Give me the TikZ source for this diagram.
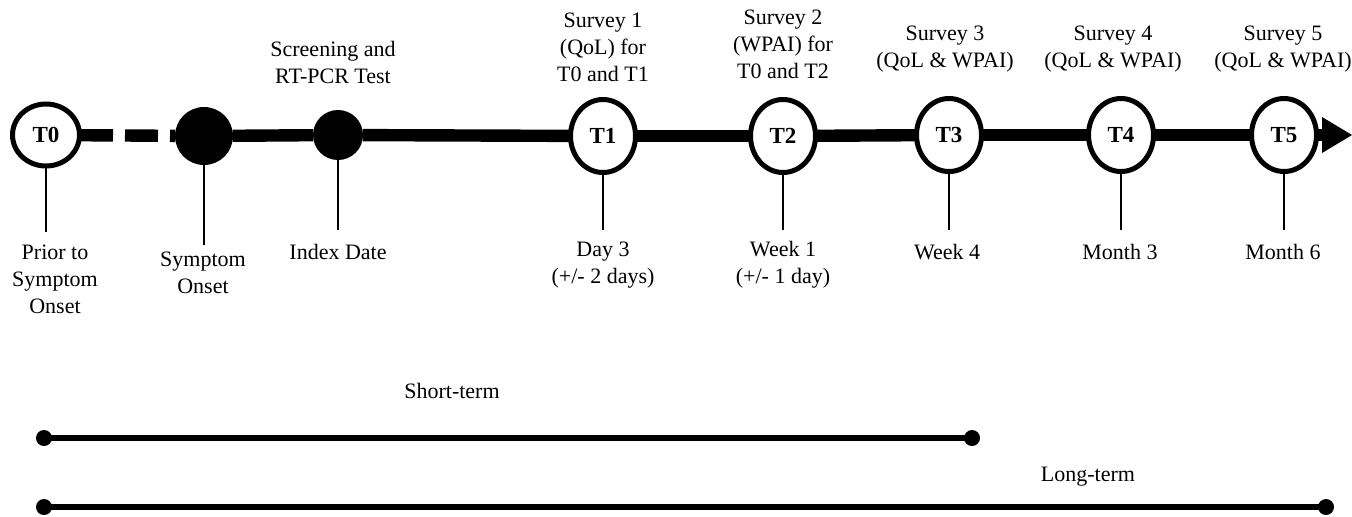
\documentclass[tikz,border=0pt]{standalone}
\usepackage{fontspec}
\setmainfont{Liberation Serif}
\newfontfamily\tnr{Liberation Serif}
\usetikzlibrary{arrows.meta,shapes.geometric}
\begin{document}
\begin{tikzpicture}[x=0.5pt,y=-0.5pt,
  lbl/.style={font=\tnr\fontsize{11}{13.5}\selectfont, align=center, inner sep=0pt},
  tnode/.style={ellipse, draw, line width=2.5pt, fill=white, inner sep=0pt, outer sep=0pt,
    minimum width=32.5pt, minimum height=36.5pt, font=\tnr\fontsize{11.5}{13}\selectfont\bfseries},
  bigdot/.style={circle, fill=black, inner sep=0pt, outer sep=0pt},
  enddot/.style={circle, fill=black, inner sep=0pt, outer sep=0pt, minimum size=8pt},
  mainline/.style={line width=6.2pt, line cap=butt},
  tick/.style={line width=0.8pt},
  span/.style={line width=2.8pt}]
\useasboundingbox (0,0) rectangle (1352,516);

% timeline nodes
\node[tnode, minimum width=33.5pt, minimum height=31pt] (T0) at (46,135) {T0};
\node[bigdot, minimum size=29pt] (S) at (204,136) {};
\node[bigdot, minimum width=22pt, minimum height=25pt] (I) at (338,135) {};
\node[tnode] (T1) at (603,136) {T1};
\node[tnode] (T2) at (783,136) {T2};
\node[tnode] (T3) at (949,135) {T3};
\node[tnode] (T4) at (1121,135) {T4};
\node[tnode] (T5) at (1284,135) {T5};
\coordinate (tip) at (1352,135);

% main line
\draw[mainline, dash pattern=on 16.75pt off 6pt on 16.5pt off 6pt on 200pt] (T0) -- (S);
\draw[mainline] (S) -- (I);
\draw[mainline] (I) -- (T1);
\draw[mainline] (T1) -- (T2);
\draw[mainline] (T2) -- (T3);
\draw[mainline] (T3) -- (T4);
\draw[mainline] (T4) -- (T5);
\draw[mainline, -{Triangle[length=15pt,width=18pt,line width=0pt]}] (T5) -- (tip);

% tick ends
\coordinate (e0) at (46,232);
\coordinate (eS) at (204,245);
\coordinate (eI) at (338,230);
\coordinate (e1) at (603,230);
\coordinate (e2) at (783,230);
\coordinate (e3) at (949,230);
\coordinate (e4) at (1121,230);
\coordinate (e5) at (1284,230);
\draw[tick] (T0) -- (e0);
\draw[tick] (S) -- (eS);
\draw[tick] (I) -- (eI);
\draw[tick] (T1) -- (e1);
\draw[tick] (T2) -- (e2);
\draw[tick] (T3) -- (e3);
\draw[tick] (T4) -- (e4);
\draw[tick] (T5) -- (e5);

% top labels
\node[lbl] (lscr) at (333,62) {Screening and\\RT-PCR Test};
\node[lbl] (ls1) at (603,47) {Survey 1\\(QoL) for\\T0 and T1};
\node[lbl] (ls2) at (783,44) {Survey 2\\(WPAI) for\\T0 and T2};
\node[lbl] (ls3) at (945,49) {Survey 3\\(QoL \& WPAI)};
\node[lbl] (ls4) at (1113,49) {Survey 4\\(QoL \& WPAI)};
\node[lbl] (ls5) at (1283,49) {Survey 5\\(QoL \& WPAI)};

% bottom labels
\node[lbl] (lb0) at (55,279) {Prior to\\Symptom\\Onset};
\node[lbl] (lbS) at (203,273) {Symptom\\Onset};
\node[lbl] (lbI) at (338,252) {Index Date};
\node[lbl] (lb1) at (603,265) {Day 3\\(+/- 2 days)};
\node[lbl] (lb2) at (783,265) {Week 1\\(+/- 1 day)};
\node[lbl] (lb3) at (947,252) {Week 4};
\node[lbl] (lb4) at (1120,252) {Month 3};
\node[lbl] (lb5) at (1283,252) {Month 6};

% spans
\node[lbl] (lshort) at (452,391) {Short-term};
\node[enddot] (sa) at (44,438) {};
\node[enddot] (sb) at (972,438) {};
\draw[span] (sa.center) -- (sb.center);
\node[lbl] (llong) at (1088,477) {Long-term};
\node[enddot] (la) at (44,507) {};
\node[enddot] (lb) at (1326,507) {};
\draw[span] (la.center) -- (lb.center);
\end{tikzpicture}
\end{document}
